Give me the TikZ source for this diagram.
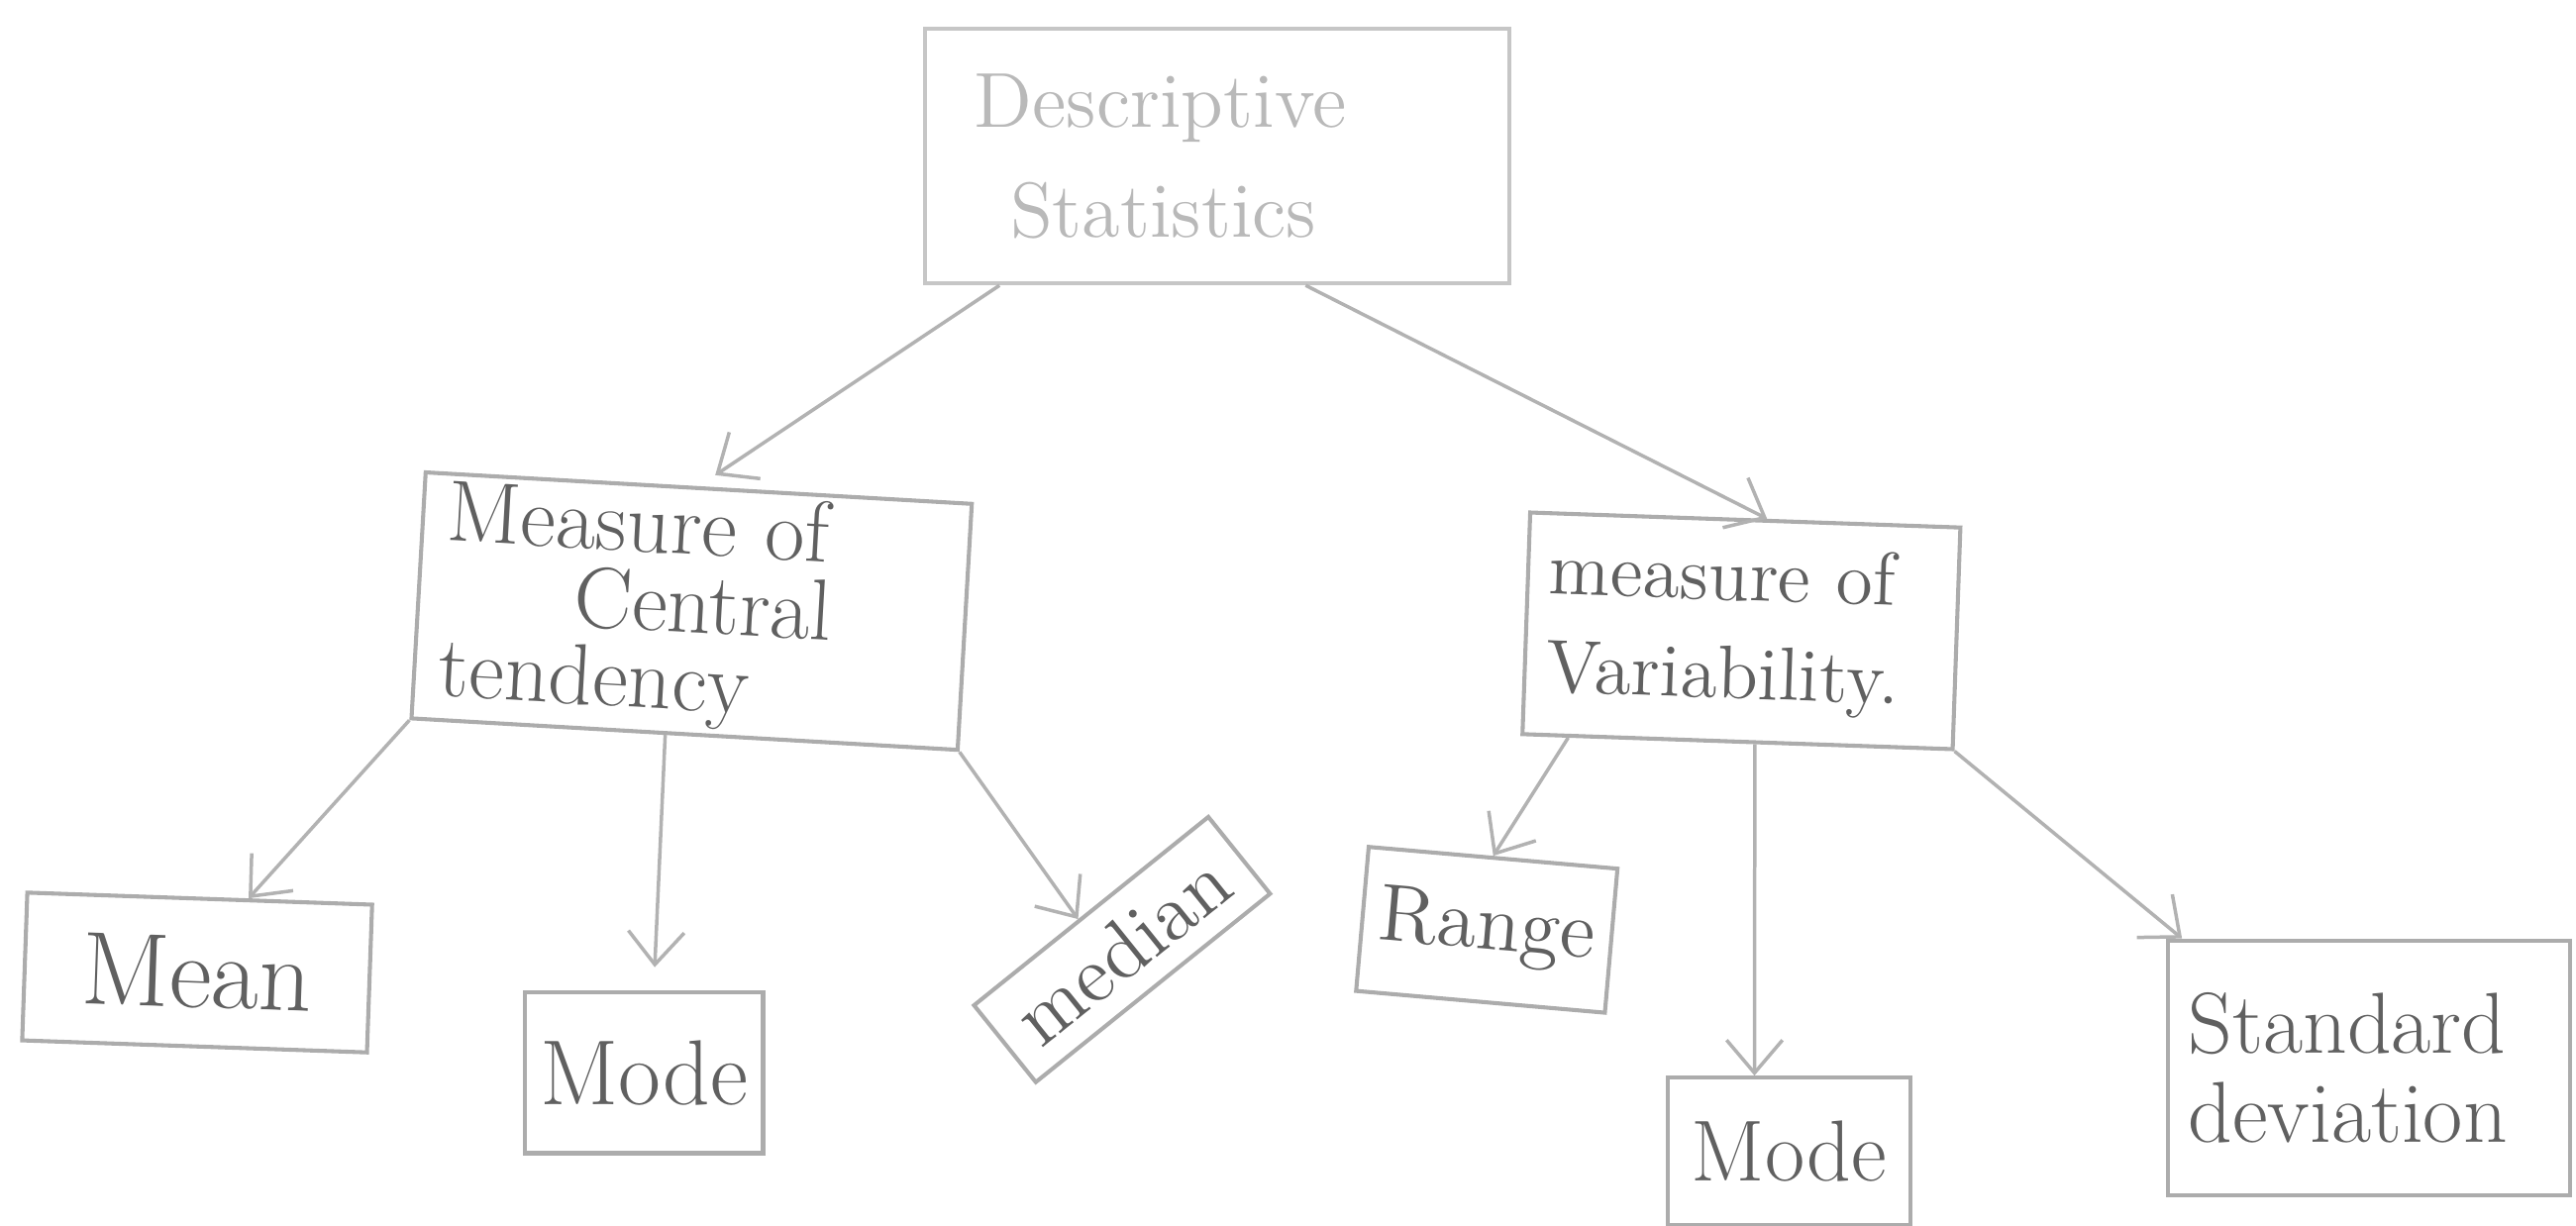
\documentclass[tikz,border=0pt]{standalone}
\usetikzlibrary{arrows.meta,calc}
\begin{document}
\begin{tikzpicture}[x=0.1mm, y=-0.1mm,
        box/.style={draw=gray!65, line width=0.7pt, rectangle, inner sep=0pt, text=gray!75!black},
        conn/.style={gray!60, line width=0.6pt, -{Straight Barb[length=2mm,width=3.4mm]}}]
        \useasboundingbox (0,0) rectangle (1568,746);

        % Top box
        \node[box, draw=gray!45, text=gray!55, minimum width=3.56cm, minimum height=1.55cm,
              text width=2.96cm, inner xsep=3mm, align=left,
              font=\fontsize{13.5}{19}\selectfont] (ds) at (741,95) {Descriptive\\\hspace*{2.2mm}Statistics};

        % Two measures
        \node[box, rotate=-3.3, minimum width=3.33cm, minimum height=1.5cm,
              text width=3.03cm, inner xsep=1.5mm, align=left,
              font=\fontsize{15}{13.5}\selectfont] (ct) at (421,372) {Measure of\\\hspace*{8mm}Central\\tendency};
        \node[box, rotate=-2, minimum width=2.62cm, minimum height=1.35cm,
              text width=2.36cm, inner xsep=1.3mm, align=left,
              font=\fontsize{13}{17}\selectfont] (var) at (1060,384) {measure of\\Variability.};

        % Central tendency leaves
        \node[box, rotate=-2, minimum width=2.1cm, minimum height=0.9cm, font=\fontsize{18}{20}\selectfont] (mean) at (120,592) {Mean};
        \node[box, minimum width=1.45cm, minimum height=0.98cm, font=\fontsize{16}{18}\selectfont] (mode1) at (392,653) {Mode};
        \node[box, rotate=38.8, minimum width=1.83cm, minimum height=0.6cm, font=\fontsize{14}{16}\selectfont] (med) at (683,578) {median};

        % Variability leaves
        \node[box, rotate=-5, minimum width=1.52cm, minimum height=0.88cm, font=\fontsize{14}{16}\selectfont] (range) at (905,566) {Range};
        \node[box, minimum width=1.48cm, minimum height=0.9cm, font=\fontsize{15}{17}\selectfont] (mode2) at (1089,701) {Mode};
        \node[box, minimum width=2.45cm, minimum height=1.55cm, text width=2.2cm, inner xsep=1.25mm, align=left,
              font=\fontsize{15}{15.5}\selectfont] (sd) at (1442,650) {Standard\\deviation};

        % Arrows from the top
        \draw[conn, shorten >=1.2mm] ($(ds.south west)!0.13!(ds.south east)$) -- ($(ct.north west)!0.5!(ct.north east)$);
        \draw[conn] ($(ds.south west)!0.65!(ds.south east)$) -- ($(var.north west)!0.55!(var.north east)$);

        % Arrows to the leaves
        \draw[conn] (ct.south west) -- ($(mean.north west)!0.64!(mean.north east)$);
        \draw[conn, shorten >=1.4mm] ($(ct.south west)!0.465!(ct.south east)$) -- ($(mode1.north west)!0.54!(mode1.north east)$);
        \draw[conn] (ct.south east) -- ($(med.north west)!0.45!(med.north east)$);
        \draw[conn] ($(var.south west)!0.11!(var.south east)$) -- ($(range.north west)!0.5!(range.north east)$);
        \draw[conn] ($(var.south west)!0.54!(var.south east)$) -- ($(mode2.north west)!0.36!(mode2.north east)$);
        \draw[conn] (var.south east) -- ($(sd.north west)!0.04!(sd.north east)$);
    \end{tikzpicture}
\end{document}
